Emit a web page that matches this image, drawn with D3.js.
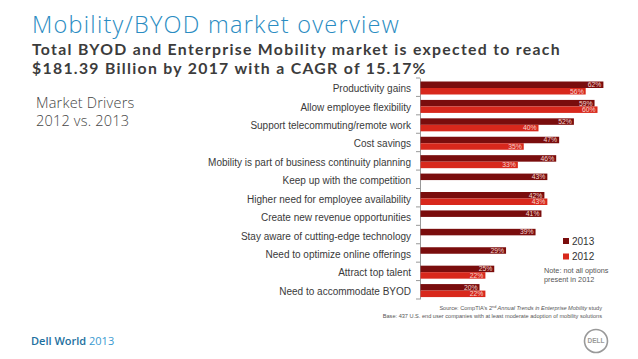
<!DOCTYPE html>
<html><head><meta charset="utf-8">
<script src="https://cdn.jsdelivr.net/npm/d3@7"></script>
<style>
html,body{margin:0;padding:0;background:#fff;}
svg{display:block;}
</style></head>
<body>
<svg id="c" width="638" height="359"></svg>
<script>
const categories = ["Productivity gains","Allow employee flexibility","Support telecommuting/remote work","Cost savings","Mobility is part of business continuity planning","Keep up with the competition","Higher need for employee availability","Create new revenue opportunities","Stay aware of cutting-edge technology","Need to optimize online offerings","Attract top talent","Need to accommodate BYOD"];
const values2013 = [62,59,52,47,46,43,42,41,39,29,25,20];
const values2012 = [56,60,40,35,33,null,43,null,null,null,22,22];
const seriesNames = ["2013","2012"];
const seriesColors = ["#7a0d0d","#d8281c"];

const svg = d3.select("#c");
const FONT = "'Liberation Sans', Arial, sans-serif";

// Titles
svg.append("text").attr("x",32).attr("y",33).attr("fill","#2a8cc2")
  .attr("font-family","'Open Sans', sans-serif").attr("font-weight",300).attr("font-size",23.5)
  .attr("letter-spacing",1.25)
  .text("Mobility/BYOD market overview");
svg.append("text").attr("x",32).attr("y",54.5).attr("fill","#3c3c3c")
  .attr("font-family","Lato, sans-serif").attr("font-weight",700).attr("font-size",15.8)
  .attr("letter-spacing",1.3)
  .text("Total BYOD and Enterprise Mobility market is expected to reach");
svg.append("text").attr("x",32).attr("y",73.5).attr("fill","#3c3c3c")
  .attr("font-family","Lato, sans-serif").attr("font-weight",700).attr("font-size",15.8)
  .attr("letter-spacing",1.3)
  .text("$181.39 Billion by 2017 with a CAGR of 15.17%");
svg.append("text").attr("x",36).attr("y",108).attr("fill","#444")
  .attr("font-family","'Open Sans', sans-serif").attr("font-weight",300).attr("font-size",14.5)
  .attr("letter-spacing",0.2)
  .text("Market Drivers");
svg.append("text").attr("x",36).attr("y",126).attr("fill","#444")
  .attr("font-family","'Open Sans', sans-serif").attr("font-weight",300).attr("font-size",14.5)
  .attr("letter-spacing",0.2)
  .text("2012 vs. 2013");

// Scales
const x = d3.scaleLinear().domain([0,70]).range([420, 420+70*2.95]);
const y0 = d3.scaleBand().domain(categories).range([78, 299]).paddingInner(0);
const y1 = d3.scaleBand().domain(seriesNames).range([3.5, 16.5]);

// Axis
const axis = d3.axisLeft(y0).tickSize(0).tickPadding(9);
const gAxis = svg.append("g").attr("transform","translate(420,0)").call(axis);
gAxis.select(".domain").attr("stroke","#999").attr("stroke-width",1);
gAxis.selectAll("text").attr("font-family",FONT).attr("font-size",10).attr("fill","#3a3a3a")
  .attr("dy","0.32em")
  .attr("y", d => y0.bandwidth()*(11/18.4) - y0.bandwidth()/2);
// boundary ticks
const bounds = categories.map(c => y0(c)).concat([y0.range()[1]]);
svg.append("g").selectAll("line").data(bounds).join("line")
  .attr("x1",416).attr("x2",420).attr("y1",d=>d).attr("y2",d=>d)
  .attr("stroke","#999").attr("stroke-width",1);

// Bars
const rows = categories.map((c,i)=>({c, vals:[{s:"2013",v:values2013[i]},{s:"2012",v:values2012[i]}].filter(d=>d.v!=null)}));
const g = svg.append("g").selectAll("g").data(rows).join("g")
  .attr("transform", d=>`translate(0,${y0(d.c)})`);
g.selectAll("rect").data(d=>d.vals).join("rect")
  .attr("x", x(0)+0.5).attr("y", d=>y1(d.s)).attr("height", y1.bandwidth())
  .attr("width", d=>x(d.v)-x(0)).attr("fill", d=>seriesColors[seriesNames.indexOf(d.s)]);
g.selectAll("text").data(d=>d.vals).join("text")
  .attr("x", d=>x(d.v)-1.5).attr("y", d=>y1(d.s)+y1.bandwidth()/2).attr("dy","0.35em")
  .attr("text-anchor","end").attr("fill","#f3d6d0").attr("font-family",FONT).attr("font-size",6.8)
  .text(d=>d.v+"%");

// Legend
const leg = svg.append("g").selectAll("g").data(seriesNames).join("g")
  .attr("transform",(d,i)=>`translate(563,${241+i*15.5})`);
leg.append("rect").attr("x",0).attr("y",-3).attr("width",6).attr("height",6)
  .attr("fill",(d,i)=>seriesColors[i]);
leg.append("text").attr("x",9).attr("y",0).attr("dy","0.35em").attr("font-family",FONT)
  .attr("font-size",10).attr("fill","#333").text(d=>d);
svg.append("text").attr("x",544).attr("y",273).attr("font-family",FONT).attr("font-size",7.3).attr("fill","#555").text("Note: not all options");
svg.append("text").attr("x",544).attr("y",282).attr("font-family",FONT).attr("font-size",7.3).attr("fill","#555").text("present in 2012");

// Source
const src = svg.append("text").attr("x",602).attr("y",310).attr("text-anchor","end")
  .attr("font-family",FONT).attr("font-size",5.6).attr("fill","#555");
src.append("tspan").text("Source: CompTIA\u2019s 2");
src.append("tspan").attr("font-size",3.8).attr("dy",-2).text("nd");
src.append("tspan").attr("dy",2).attr("font-style","italic").text(" Annual Trends in Enterprise Mobility");
src.append("tspan").text(" study");
svg.append("text").attr("x",602).attr("y",318).attr("text-anchor","end")
  .attr("font-family",FONT).attr("font-size",5.6).attr("fill","#555")
  .text("Base: 437 U.S. end user companies with at least moderate adoption of mobility solutions");

// Footer
const ft = svg.append("text").attr("x",31).attr("y",345).attr("font-family","'Open Sans', sans-serif").attr("font-size",11);
ft.append("tspan").attr("fill","#1d6f9e").attr("font-weight",600).text("Dell World");
ft.append("tspan").attr("fill","#3a9ad0").attr("font-weight",400).text(" 2013");
svg.append("circle").attr("cx",596).attr("cy",341).attr("r",11.5).attr("fill","none").attr("stroke","#999").attr("stroke-width",1.6);
svg.append("text").attr("x",596).attr("y",341).attr("dy","0.35em").attr("text-anchor","middle")
  .attr("font-family",FONT).attr("font-weight",700).attr("font-size",6.5).attr("fill","#999").text("DELL");
</script>
</body></html>
